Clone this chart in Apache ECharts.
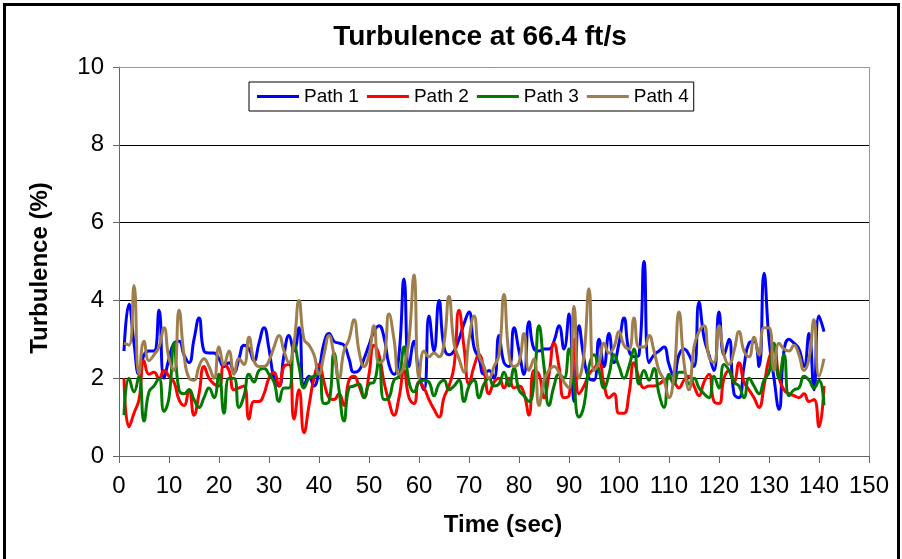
<!DOCTYPE html>
<html>
<head>
<meta charset="utf-8">
<script src="https://cdn.jsdelivr.net/npm/echarts@6/dist/echarts.min.js"></script>
<style>
  html, body { margin: 0; padding: 0; background: #fff; }
  #chart { width: 902px; height: 559px; }
</style>
</head>
<body>
<div id="chart"></div>
<script>
// Turbulence intensity (%) sampled once per second on four acoustic paths
const seconds = Array.from({ length: 141 }, (_, i) => i + 1);

const path1 = [
  2.7, 3.9, 2.9, 2.1, 2.6, 2.7, 2.7, 3.75, 2.0, 2.5, 2.9, 2.95, 2.6, 2.4, 3.0, 3.55, 2.7, 2.65, 2.65,
  2.5, 2.3, 2.4, 2.15, 2.5, 2.85, 2.75, 2.45, 2.9, 3.3, 2.75, 2.0, 1.8, 2.6, 3.1, 2.7, 3.3, 1.8, 2.05,
  1.8, 2.2, 2.9, 3.15, 2.95, 2.9, 2.85, 2.5, 2.15, 2.2, 2.5, 2.85, 3.2, 3.35, 3.05, 2.35, 2.1, 2.6, 4.55,
  2.3, 2.95, 2.1, 1.7, 3.6, 2.7, 4.0, 2.8, 2.6, 2.7, 3.0, 3.4, 3.7, 2.8, 2.5, 2.1, 2.2, 2.0, 3.1,
  2.4, 2.3, 3.3, 2.7, 2.1, 3.45, 2.75, 2.7, 2.75, 2.75, 2.95, 3.35, 2.75, 3.65, 1.4, 3.35, 2.5, 2.0, 1.95,
  3.0, 2.3, 3.15, 2.4, 2.9, 3.55, 2.7, 2.55, 2.6, 5.0, 2.4, 2.6, 2.7, 2.8, 2.35, 2.05, 2.6, 2.75, 2.6,
  2.3, 3.95, 3.05, 2.6, 2.2, 3.7, 2.6, 3.0, 1.6, 1.5, 2.3, 2.9, 2.95, 2.3, 4.7, 3.0, 2.0, 1.2, 2.7,
  3.0, 2.9, 2.75, 2.3, 3.15, 1.7, 3.6, 3.2
];

const path2 = [
  2.0, 0.75, 1.1, 1.45, 2.45, 2.1, 2.15, 2.0, 2.2, 2.05, 1.9, 1.45, 1.3, 1.7, 1.05, 1.6, 2.3, 2.0, 1.85,
  1.8, 2.35, 2.2, 1.7, 1.75, 1.8, 0.95, 1.4, 1.4, 1.6, 2.0, 2.15, 1.8, 2.3, 2.35, 0.95, 1.7, 0.6, 1.3,
  2.0, 2.35, 1.9, 1.5, 1.45, 1.6, 1.3, 1.95, 2.05, 1.8, 1.5, 2.1, 2.85, 2.6, 1.9, 1.4, 1.05, 1.5, 2.2,
  1.5, 1.35, 1.9, 1.75, 1.45, 1.2, 1.0, 1.5, 1.8, 2.3, 3.75, 2.8, 1.85, 2.3, 2.6, 2.2, 1.6, 1.9, 2.0,
  1.75, 2.0, 1.75, 1.8, 1.6, 1.05, 2.2, 2.1, 1.5, 2.1, 2.9, 2.3, 1.5, 1.55, 3.0, 1.6, 1.8, 2.1, 2.25,
  2.4, 1.85, 1.5, 1.6, 1.1, 1.1, 1.6, 2.4, 2.0, 1.75, 1.8, 1.8, 1.85, 1.95, 2.0, 1.9, 1.75, 1.95, 2.05,
  1.8, 1.55, 1.9, 2.1, 1.4, 1.35, 2.0, 2.2, 1.9, 2.4, 1.9, 1.7, 1.5, 1.25, 1.8, 2.5, 2.75, 2.0, 1.7,
  1.6, 1.55, 1.5, 1.6, 1.4, 1.45, 0.75, 1.8
];

const path3 = [
  1.05, 2.0, 1.65, 2.05, 0.9, 1.65, 1.8, 2.0, 1.15, 1.5, 2.9, 1.7, 1.6, 1.7, 1.45, 1.25, 1.5, 1.75, 1.5,
  2.1, 1.1, 2.0, 2.0, 1.25, 1.55, 2.1, 1.9, 2.2, 2.25, 2.1, 1.9, 1.4, 1.75, 1.75, 2.9, 2.3, 1.75, 2.0,
  2.05, 2.15, 1.35, 1.4, 2.65, 1.7, 0.9, 1.75, 1.8, 1.85, 1.5, 1.85, 1.9, 2.5, 1.45, 1.5, 1.95, 2.05, 2.8,
  1.9, 1.65, 1.9, 1.95, 1.9, 1.55, 1.85, 1.95, 1.7, 1.8, 1.95, 1.4, 1.8, 1.95, 1.5, 1.85, 2.0, 1.8, 1.85,
  2.15, 1.8, 2.25, 1.7, 1.55, 1.4, 1.9, 3.35, 2.3, 1.3, 1.8, 2.1, 2.0, 2.75, 1.8, 1.0, 1.3, 2.3, 2.6,
  2.2, 1.75, 2.1, 2.6, 2.3, 2.0, 2.3, 2.75, 1.85, 2.2, 1.95, 2.25, 1.6, 1.25, 2.1, 1.85, 2.15, 2.15, 1.85,
  2.0, 1.75, 1.6, 1.5, 2.05, 1.75, 2.35, 2.2, 1.9, 1.8, 1.5, 2.0, 1.8, 1.6, 1.95, 2.15, 2.9, 2.0, 2.6,
  1.55, 1.7, 1.75, 2.05, 1.95, 1.75, 1.95, 1.3
];

const path4 = [
  2.9, 2.85, 4.38, 2.1, 2.95, 2.45, 2.6, 2.8, 3.3, 2.5, 2.2, 3.75, 2.6, 2.0, 1.95, 2.3, 2.5, 2.3, 2.0,
  2.8, 2.35, 2.7, 2.1, 2.5, 2.35, 3.05, 2.45, 2.3, 2.3, 2.45, 2.8, 3.1, 2.7, 2.4, 2.9, 4.0, 3.0, 2.85,
  2.6, 2.1, 2.6, 3.1, 2.6, 2.0, 2.7, 3.0, 3.5, 2.7, 2.3, 2.6, 3.35, 2.4, 2.5, 3.65, 3.0, 2.1, 2.3,
  3.0, 4.65, 2.0, 2.7, 2.55, 2.65, 2.55, 2.9, 4.1, 2.9, 2.5, 2.15, 3.0, 3.6, 2.6, 2.3, 2.0, 2.3, 2.6,
  4.15, 2.6, 2.3, 2.4, 3.15, 2.2, 2.5, 1.3, 1.95, 2.2, 2.3, 2.15, 1.9, 1.75, 3.85, 2.0, 2.6, 4.3, 2.2,
  2.4, 2.9, 2.65, 2.8, 3.2, 2.85, 2.75, 3.55, 2.8, 2.8, 3.1, 2.7, 2.2, 1.95, 1.5, 2.1, 3.7, 2.4, 1.7,
  2.8, 3.2, 3.35, 2.55, 2.4, 3.35, 2.6, 2.35, 2.7, 3.2, 2.7, 2.55, 3.05, 2.6, 3.3, 3.3, 2.2, 2.9, 2.75,
  2.7, 2.85, 2.6, 2.2, 2.5, 3.5, 2.05, 2.5
];

const seriesNames = ['Path 1', 'Path 2', 'Path 3', 'Path 4'];
const seriesValues = [path1, path2, path3, path4];
const seriesColors = ['#0000FF', '#FF0000', '#007A00', '#9E7E4C'];

const xMin = 0, xMax = 150, xStep = 10;
const yMin = 0, yMax = 10, yStep = 2;

const FONT = '"Liberation Sans", Arial, Helvetica, sans-serif';

// plot frame, in pixels
const plot = { left: 119, top: 67, right: 869, bottom: 456 };

const chart = echarts.init(document.getElementById('chart'), null, { renderer: 'canvas' });

const series = seriesNames.map((name, k) => ({
  name,
  type: 'line',
  data: seconds.map((t, i) => [t, seriesValues[k][i]]),
  smooth: 0.5,
  showSymbol: false,
  symbol: 'none',
  color: seriesColors[k],
  lineStyle: { width: 3, color: seriesColors[k] },
  z: 3 + k
}));

chart.setOption({
  animation: false,
  backgroundColor: '#fff',
  grid: {
    left: plot.left,
    top: plot.top,
    right: 902 - plot.right,
    bottom: 559 - plot.bottom,
    containLabel: false
  },
  legend: {
    data: seriesNames,
    left: 249,
    top: 82,
    orient: 'horizontal',
    icon: 'rect',
    itemWidth: 42,
    itemHeight: 3,
    itemGap: 8,
    padding: [5, 5, 5, 8],
    borderColor: '#000',
    borderWidth: 1,
    backgroundColor: '#fff',
    textStyle: { fontFamily: FONT, fontSize: 19, color: '#000' }
  },
  xAxis: {
    type: 'value',
    min: xMin,
    max: xMax,
    interval: xStep,
    axisLine: { show: true, lineStyle: { color: '#666', width: 1 } },
    axisTick: { show: true, inside: false, length: 7, lineStyle: { color: '#666' } },
    axisLabel: { fontFamily: FONT, fontSize: 24, color: '#000', margin: 18 },
    splitLine: { show: false }
  },
  yAxis: {
    type: 'value',
    min: yMin,
    max: yMax,
    interval: yStep,
    axisLine: { show: true, lineStyle: { color: '#666', width: 1 } },
    axisTick: { show: true, inside: false, length: 6, lineStyle: { color: '#666' } },
    axisLabel: { fontFamily: FONT, fontSize: 24, color: '#000', margin: 15 },
    splitLine: { show: true, lineStyle: { color: '#000', width: 1 } }
  },
  series,
  graphic: [
    // outer frame
    {
      type: 'rect', silent: true, z: 100,
      shape: { x: 4.5, y: 4.5, width: 894, height: 600 },
      style: { fill: null, stroke: '#000', lineWidth: 3 }
    },
    // plot frame top and right edges
    {
      type: 'line', silent: true, z: 50,
      shape: { x1: plot.left, y1: plot.top + 0.5, x2: plot.right + 0.5, y2: plot.top + 0.5 },
      style: { stroke: '#999', lineWidth: 1 }
    },
    {
      type: 'line', silent: true, z: 50,
      shape: { x1: plot.right + 0.5, y1: plot.top, x2: plot.right + 0.5, y2: plot.bottom },
      style: { stroke: '#999', lineWidth: 1 }
    },
    {
      type: 'text', silent: true, z: 50,
      x: 480, y: 37,
      style: {
        text: 'Turbulence at 66.4 ft/s',
        font: 'bold 28px ' + FONT,
        fill: '#000', align: 'center', verticalAlign: 'middle'
      }
    },
    {
      type: 'text', silent: true, z: 50,
      x: 40, y: 268, rotation: Math.PI / 2,
      style: {
        text: 'Turbulence (%)',
        font: 'bold 24px ' + FONT,
        fill: '#000', align: 'center', verticalAlign: 'middle'
      }
    },
    {
      type: 'text', silent: true, z: 50,
      x: 503, y: 525,
      style: {
        text: 'Time (sec)',
        font: 'bold 24px ' + FONT,
        fill: '#000', align: 'center', verticalAlign: 'middle'
      }
    }
  ]
});
</script>
</body>
</html>
